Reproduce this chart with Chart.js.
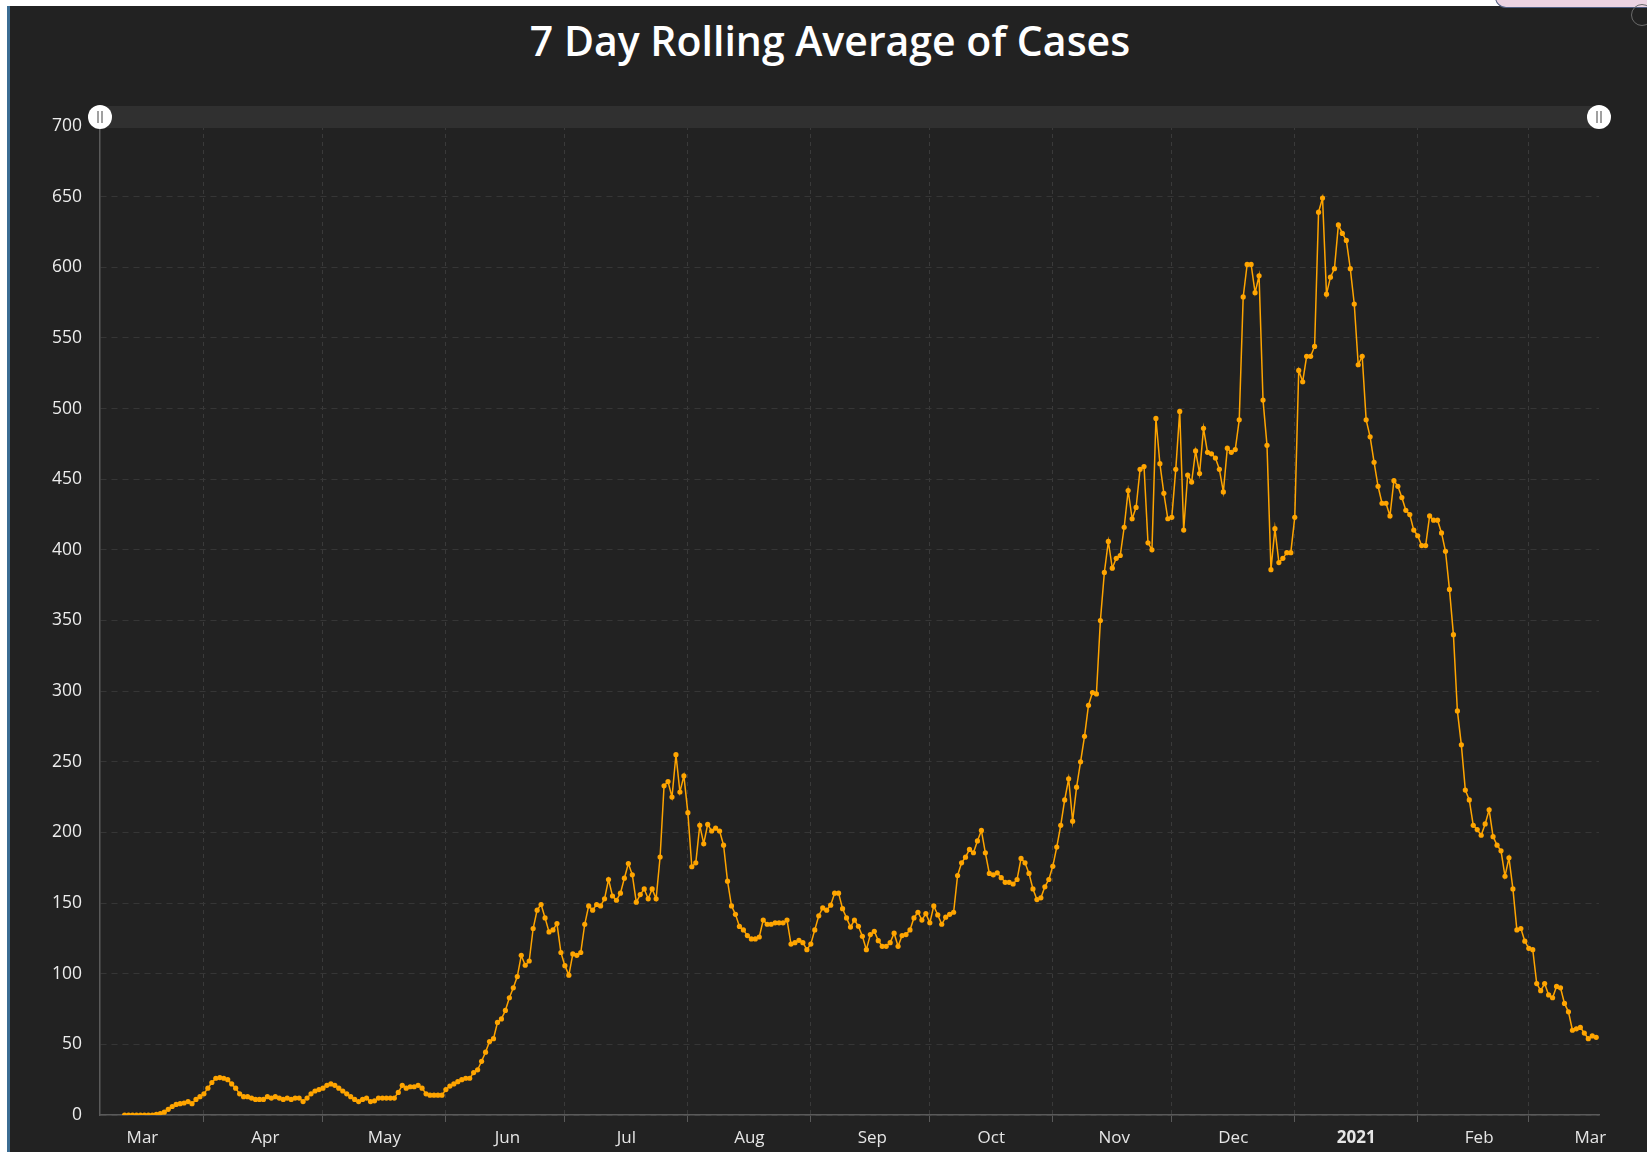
<!DOCTYPE html>
<html>
<head>
<meta charset="utf-8">
<script src="https://cdn.jsdelivr.net/npm/chart.js@4.4.1/dist/chart.umd.min.js"></script>
<style>
html,body{margin:0;padding:0;width:1647px;height:1152px;overflow:hidden;background:#ffffff;}
#frame{position:absolute;left:7px;top:6px;width:1640px;height:1146px;background:#222222;border-left:3px solid #3c6d93;box-sizing:border-box;}
#pink{position:absolute;left:1495px;top:-3px;width:170px;height:9px;background:#ecd3e1;border:1.5px solid #4e5d80;border-radius:0 0 0 12px;}
#icon{position:absolute;left:1631px;top:4px;width:20px;height:20px;border:1.5px solid #6a6a6a;border-radius:50%;}
#title{position:absolute;left:0;top:12px;width:1660px;line-height:50px;text-align:center;color:#ffffff;font:600 41px "Open Sans",sans-serif;}
canvas{position:absolute;left:0;top:0;}
#bar{position:absolute;left:100px;top:106px;width:1499px;height:22px;background:#303030;}
.grip{position:absolute;top:105px;width:24px;height:24px;margin-left:-12px;border-radius:50%;background:#ffffff;}
.grip:before,.grip:after{content:"";position:absolute;top:6px;width:2px;height:12px;background:#a0a0a0;}
.grip:before{left:9px;}
.grip:after{left:13px;}
</style>
</head>
<body>
<div id="frame"></div>
<div id="pink"></div>
<div id="icon"></div>
<div id="title">7 Day Rolling Average of Cases</div>
<canvas id="c" width="1647" height="1152"></canvas>
<div id="bar"></div>
<div class="grip" style="left:100px"></div>
<div class="grip" style="left:1599px"></div>
<script>
// ---- data (7-day rolling average of cases, first value = 12 Mar 2020) ----
const firstDate = [2020, 2, 12];
const cases2020Mar = [0,0,0,0,0,0,0,0,0.5,1,2,4,6,7.5,8,8.5,9.5,8,11,13];
const cases2020Apr = [15,19,23,26,26.5,26,25,22,19,15,13,13,12,11,11,11,13,12,13,12,11,12,11,12,12,9.5,12,15,17,18];
const cases2020May = [19,21,22,21,19,17,15,13,11,9.5,11,12,9.5,10,12,12,12,12,12,16,21,19,20,20,21,19,15,14,14,14,14];
const cases2020Jun = [18,20.5,22,23.6,25,26,26,30,32,38,44.5,52,54,65.5,68,74,83,90,98,113,106,109,132,145,149,139.5,129.6,131,135.5,115];
const cases2020Jul = [105.7,99,114,113,115,135,148,145,149,148,153,166.7,155,152,157,167.6,178,170,150.6,156,160,153,160,153,182.6,233,236,225,255,228.6,240];
const cases2020Aug = [214,175.7,178.5,205,192,205.7,201,203,201,191,165.5,148,142,133.5,131,127,124.6,124.6,126,138,135,135,136,136,136,138,121,122,123.6,122,117];
const cases2020Sep = [121,131,141,146.6,145,148.5,157,157,146,139.5,133,138,133.6,126.5,117,127.7,130,123.4,119.4,119.4,122,128.7,119.4,127,127.7,131,139.5,143.5,138,142.5];
const cases2020Oct = [136,148,141.6,135,140,142,143.5,169.5,178.5,182.5,188,185.6,194,201.4,185.6,171,170,171.4,168,164.7,164.7,163.5,166.7,181.6,178.5,171,160,152.5,153.7,161.5,166.7];
const cases2020Nov = [176,189.6,205,223,238,208,232,250,268,290,299,298,350,384,406,387,394,396,416,442,422,430,457,459,405,400,493,461,440,422];
const cases2020Dec = [423,457,498,414,453,448,470,454,486,469,468,465,457,441,472,469,471,492,579,602,602,582,594,506,474,386,415,391,394,398,398];
const cases2021Jan = [423,527,519,537,537,544,639,649,581,593,599,630,624,619,599,574,531,537,492,480,462,445,433,433,424,449,445,437,428,425,414];
const cases2021Feb = [410,403,403,424,421,421,412,399,372,340,286,262,230,223,205,202,198,206,216,197,191,187,169,182,160,131,132,123];
const cases2021Mar = [118,117,93,88,93,85,83,91,90,79,73,60,61,62,58,54,56,55];

// ---- axis labels ----
const monthLabels = ['Mar','Apr','May','Jun','Jul','Aug','Sep','Oct','Nov','Dec','2021','Feb','Mar'];
const yearLabels = ['2021'];
const yTickStep = 50;
const yMax = 700;

// ---- helpers ----
const base = Date.UTC(2020, 2, 1);
const dayIndex = (y, m, d) => Math.round((Date.UTC(y, m, d) - base) / 86400000);
const allCases = [].concat(cases2020Mar, cases2020Apr, cases2020May, cases2020Jun, cases2020Jul,
  cases2020Aug, cases2020Sep, cases2020Oct, cases2020Nov, cases2020Dec, cases2021Jan, cases2021Feb, cases2021Mar);
const day0 = dayIndex(firstDate[0], firstDate[1], firstDate[2]);
const points = allCases.map((v, i) => ({x: day0 + i, y: v}));

const monthStarts = [];
const labelAt = new Map();
for (let i = 0; i < monthLabels.length; i++) {
  const s = dayIndex(2020, 2 + i, 1);
  if (i > 0) monthStarts.push(s);
  labelAt.set(s + 15.5, monthLabels[i]);   // label sits mid-month (16th, noon)
}
const startSet = new Set(monthStarts);
const tickValues = monthStarts.concat([...labelAt.keys()]).sort((a, b) => a - b);

const xMin = day0 - 6.2;
const xMax = points[points.length - 1].x + 0.7;

const FONT = '"Open Sans", "Noto Sans", sans-serif';

new Chart(document.getElementById('c'), {
  type: 'line',
  data: {
    datasets: [{
      data: points,
      borderColor: '#ffa500',
      backgroundColor: '#ffa500',
      borderWidth: 1.5,
      pointRadius: 2.6,
      pointBorderWidth: 0,
      pointBackgroundColor: '#ffa500',
      tension: 0
    }]
  },
  options: {
    responsive: false,
    animation: false,
    devicePixelRatio: 1,
    layout: {padding: {left: 10, right: 48, top: 126, bottom: 0}},
    plugins: {legend: {display: false}, tooltip: {enabled: false}, title: {display: false}},
    scales: {
      x: {
        type: 'linear',
        min: xMin,
        max: xMax,
        afterFit(s) { s.height = 37; },
        afterBuildTicks(s) { s.ticks = tickValues.map(v => ({value: v})); },
        ticks: {
          autoSkip: false, maxRotation: 0, minRotation: 0, padding: 6,
          color: '#e6e6e6',
          font: (c) => ({family: FONT, size: 17, weight: (c.tick && yearLabels.includes(labelAt.get(c.tick.value))) ? 'bold' : 'normal'}),
          callback: (v) => labelAt.has(v) ? labelAt.get(v) : ''
        },
        grid: {
          color: (c) => (c.tick && startSet.has(c.tick.value)) ? '#3a3a3a' : 'rgba(0,0,0,0)',
          tickColor: (c) => (c.tick && startSet.has(c.tick.value)) ? '#5a5a5a' : 'rgba(0,0,0,0)',
          tickLength: 7,
          lineWidth: 1
        },
        border: {display: true, color: '#5a5a5a', width: 1.5, dash: [4, 4]}
      },
      y: {
        min: 0,
        max: yMax,
        afterFit(s) { s.width = 90; },
        ticks: {stepSize: yTickStep, padding: 18, color: '#ececec', font: {family: FONT, size: 17.5}},
        grid: {color: '#363636', drawTicks: false, lineWidth: 1},
        border: {display: true, color: '#5a5a5a', width: 1.5, dash: [6, 5]}
      }
    }
  }
});
</script>
</body>
</html>
